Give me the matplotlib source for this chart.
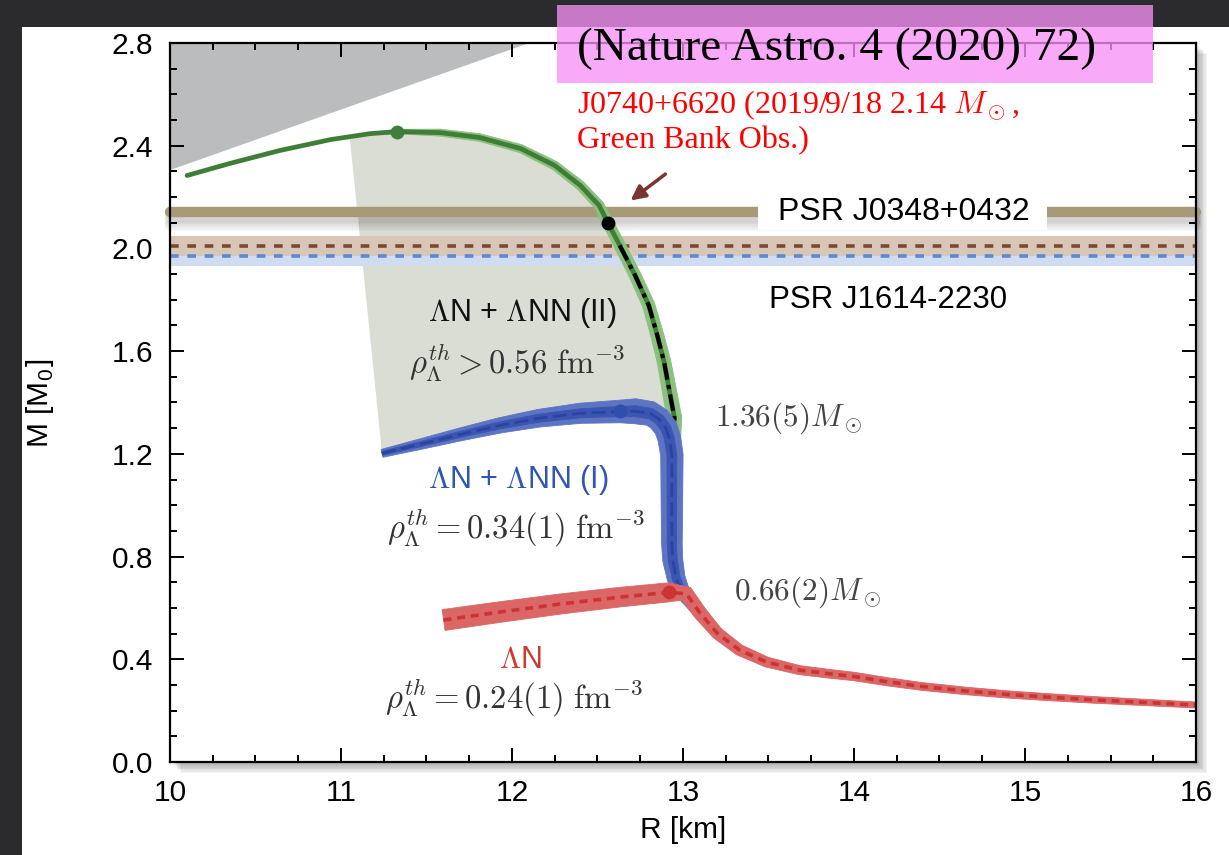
import numpy as np
import matplotlib.pyplot as plt
import matplotlib.patheffects as pe
from matplotlib.patches import Rectangle, Polygon
from matplotlib.ticker import MultipleLocator, FormatStrFormatter

plt.rcParams['font.family'] = ['Liberation Sans', 'DejaVu Sans']
plt.rcParams['mathtext.fontset'] = 'cm'

# mass-radius branches, R in km and M in solar masses
green_R = [10.10, 10.35, 10.64, 10.94, 11.17, 11.33, 11.58, 11.81, 12.05, 12.25,
           12.40, 12.51, 12.56, 12.63, 12.72, 12.80, 12.85, 12.89, 12.92, 12.95]
green_M = [2.284, 2.331, 2.381, 2.424, 2.447, 2.455, 2.451, 2.432, 2.389, 2.323,
           2.245, 2.167, 2.101, 2.012, 1.895, 1.778, 1.661, 1.556, 1.447, 1.340]

blue_R = [11.24, 11.46, 11.70, 11.93, 12.16, 12.40, 12.63, 12.72, 12.81, 12.86, 12.90, 12.92]
blue_M = [1.202, 1.237, 1.276, 1.311, 1.339, 1.358, 1.365, 1.366, 1.357, 1.335, 1.300, 1.260]

red_R = [11.60, 11.93, 12.28, 12.63, 12.92, 13.02]
red_M = [0.553, 0.584, 0.615, 0.642, 0.661, 0.655]

# nucleonic part shared by the stiffer branches
vert_R = [12.935, 12.935, 12.935, 12.935, 12.94, 12.96, 12.99, 13.04]
vert_M = [1.195, 1.080, 0.942, 0.850, 0.786, 0.716, 0.669, 0.630]

tail_R = [13.10, 13.20, 13.33, 13.49, 13.68, 13.85, 14.00, 14.20, 14.40, 14.65,
          14.90, 15.15, 15.40, 15.70, 16.00]
tail_M = [0.580, 0.502, 0.436, 0.389, 0.358, 0.344, 0.333, 0.312, 0.294, 0.277,
          0.263, 0.252, 0.242, 0.232, 0.222]

# maximum-mass / onset points
dot_R = [11.33, 12.56, 12.63, 12.92]
dot_M = [2.455, 2.10, 1.365, 0.661]
dot_colors = ['#417d3c', 'black', '#2e4fae', '#cc3434']

# causality-excluded corner
excl_R = [10.0, 10.0, 12.1]
excl_M = [2.8, 2.305, 2.8]

# pulsar masses
j0348_mass, j0348_err = 2.01, 0.04
j1614_mass, j1614_err = 1.97, 0.04
j0740_mass = 2.14


def band(ax, R, M, widths, color, z):
    """Uncertainty band of varying pixel width drawn around a curve."""
    pts = ax.transData.transform(np.column_stack([R, M]))
    d = np.gradient(pts, axis=0)
    n = np.column_stack([-d[:, 1], d[:, 0]])
    n /= np.linalg.norm(n, axis=1)[:, None]
    half = np.asarray(widths, dtype=float)[:, None] / 2
    outline = np.vstack([pts + n * half, (pts - n * half)[::-1]])
    ax.add_patch(Polygon(ax.transData.inverted().transform(outline), closed=True,
                         fc=color, ec=color, lw=0.6, zorder=z))


def ramp(n, keys, values):
    return np.interp(np.arange(n), keys, values)


fig = plt.figure(figsize=(12.29, 8.55), dpi=100, facecolor='#2b2b2d')
fig.add_artist(Rectangle((22 / 1229, 0), 1, 1 - 27 / 855, transform=fig.transFigure,
                         fc='white', ec='none', zorder=-10))
ax = fig.add_axes([0.13832, 0.10877, 0.83483, 0.84094])
ax.patch.set_path_effects([pe.SimplePatchShadow(offset=(k, -k), shadow_rgbFace='black', alpha=0.045)
                           for k in range(1, 9)] + [pe.Normal()])

ax.set_xlim(10, 16)
ax.set_ylim(0, 2.8)

# shaded region between the two three-body branches
gR = np.array(green_R)
gM = np.array(green_M)
keep = gR >= 11.05
poly = ([(11.05, 2.44)] + list(zip(gR[keep], gM[keep])) + [(12.935, 1.195)]
        + list(zip(blue_R[::-1], blue_M[::-1])))
ax.add_patch(Polygon(poly, closed=True, fc='#d9ddd3', ec='none', zorder=1))
ax.add_patch(Polygon(list(zip(excl_R, excl_M)), closed=True, fc='#bbbcbe', ec='none', zorder=1))

# pulsar mass bands
ax.axhspan(j1614_mass - j1614_err, j1614_mass + j1614_err, color='#cfdcf2', lw=0, zorder=2)
ax.axhspan(j0348_mass - j0348_err, j0348_mass + j0348_err, color='#d8c6b8', lw=0, zorder=2)
ax.axhline(j0348_mass, color='#7b4a2b', lw=2.6, ls=(0, (2.4, 2.4)), zorder=3)
ax.axhline(j1614_mass, color='#5b8ad0', lw=2.6, ls=(0, (2.4, 2.4)), zorder=3)

shadow = [pe.SimpleLineShadow(offset=(0, -k), shadow_color='black', alpha=0.025) for k in range(1, 11)]
ax.plot([10, 16], [j0740_mass, j0740_mass], color='#a99a77', lw=7.5, solid_capstyle='round',
        clip_on=False, zorder=4, path_effects=shadow + [pe.Normal()])
ax.add_patch(Rectangle((13.44, 2.07), 1.69, 0.144, fc='white', ec='none', zorder=5))
ax.text(14.29, 2.142, 'PSR J0348+0432', ha='center', va='center', fontsize=23, zorder=6)
ax.text(14.2, 1.80, 'PSR J1614-2230', ha='center', va='center', fontsize=22.5, zorder=6)

# green branch: Lambda N + Lambda NN (II)
gsel = gR >= 11.1
g_band_R = list(gR[gsel]) + vert_R[:2]
g_band_M = list(gM[gsel]) + vert_M[:2]
band(ax, g_band_R, g_band_M, ramp(len(g_band_R), [0, 2, len(g_band_R) - 1], [2, 7, 16]), '#8cc07e', 6)
ax.plot(green_R + vert_R + tail_R, green_M + vert_M + tail_M, color='#3e7e36', lw=3.4,
        solid_capstyle='round', zorder=6.2)
blk = gM <= 2.10
ax.plot(list(gR[blk]) + vert_R + tail_R, list(gM[blk]) + vert_M + tail_M,
        color='black', lw=3, ls=(0, (4, 1.3, 1, 1.3)), zorder=6.5)

# blue branch: Lambda N + Lambda NN (I)
full_bR = blue_R + vert_R + tail_R
full_bM = blue_M + vert_M + tail_M
nb = len(blue_R) + len(vert_R) + 3
band(ax, full_bR[:nb], full_bM[:nb], ramp(nb, [0, 7, 11, 16, 19, 22], [8, 25, 23, 20, 14, 7]), '#5d74c3', 7)
band(ax, full_bR[:nb], full_bM[:nb], ramp(nb, [0, 7, 11, 16, 22], [4, 11, 10, 9, 4]), '#3a56b2', 7.1)
ax.plot(full_bR, full_bM, color='#2a449f', lw=2, ls=(0, (5, 2)), zorder=7.2)

# red branch: Lambda N only
full_rR = red_R + tail_R
full_rM = red_M + tail_M
band(ax, full_rR, full_rM, ramp(len(full_rR), [0, 4, 5, 7, 10, 20], [21, 19, 15, 12, 9, 6]), '#da6666', 8)
ax.plot(full_rR, full_rM, color='#cc3434', lw=2.6, ls=(0, (2.2, 1.6)), zorder=8.2)

for r, m, c in zip(dot_R, dot_M, dot_colors):
    ax.plot(r, m, 'o', ms=10, color=c, mec='none', zorder=9)

# branch labels
dark = '#333333'
ax.text(12.06, 1.747, r'$\Lambda$N + $\Lambda$NN (II)', ha='center', va='center', fontsize=22, color='#111111', zorder=10)
ax.text(12.03, 1.556, r'$\rho_\Lambda^{th} > 0.56\ \mathrm{fm}^{-3}$', ha='center', va='center', fontsize=23.5, color=dark, zorder=10)
ax.text(13.19, 1.339, r'$1.36(5)M_\odot$', ha='left', va='center', fontsize=22.5, color='#444444', zorder=10)
ax.text(12.035, 1.097, r'$\Lambda$N + $\Lambda$NN (I)', ha='center', va='center', fontsize=22, color='#2f55b5', zorder=10)
ax.text(12.02, 0.911, r'$\rho_\Lambda^{th} = 0.34(1)\ \mathrm{fm}^{-3}$', ha='center', va='center', fontsize=23.5, color=dark, zorder=10)
ax.text(13.30, 0.661, r'$0.66(2)M_\odot$', ha='left', va='center', fontsize=22.5, color='#444444', zorder=10)
ax.text(12.05, 0.397, r'$\Lambda$N', ha='center', va='center', fontsize=22, color='#d03a2e', zorder=10)
ax.text(12.01, 0.249, r'$\rho_\Lambda^{th} = 0.24(1)\ \mathrm{fm}^{-3}$', ha='center', va='center', fontsize=23.5, color=dark, zorder=10)

ax.annotate('', xy=(12.68, 2.18), xytext=(12.91, 2.296),
            arrowprops=dict(arrowstyle='-|>', color='#7b3530', lw=2.5, mutation_scale=22),
            zorder=10, annotation_clip=False)

# axes styling
ax.xaxis.set_major_locator(MultipleLocator(1))
ax.xaxis.set_minor_locator(MultipleLocator(0.25))
ax.yaxis.set_major_locator(MultipleLocator(0.4))
ax.yaxis.set_minor_locator(MultipleLocator(0.1))
ax.yaxis.set_major_formatter(FormatStrFormatter('%.1f'))
ax.tick_params(which='both', direction='in', top=True, right=True, width=1.4, labelsize=21.5)
ax.tick_params(which='major', length=10, pad=12)
ax.tick_params(which='minor', length=5)
for s in ax.spines.values():
    s.set_linewidth(1.6)
    s.set_zorder(11)

fig.text(683 / 1229, 1 - 830 / 855, 'R [km]', ha='center', va='center', fontsize=21.5)
fig.text(40 / 1229, 1 - 403 / 855, r'M [M$_\mathregular{0}$]', ha='center', va='center',
         rotation=90, fontsize=21.5)

# citation banner and J0740 note
fig.add_artist(Rectangle((557 / 1229, 1 - 83 / 855), 596 / 1229, 78 / 855, transform=fig.transFigure,
                         fc='#f791f7', alpha=0.77, ec='none', zorder=20))
fig.text(577 / 1229, 1 - 49 / 855, '(Nature Astro. 4 (2020) 72)', ha='left', va='center',
         fontsize=34, family='Liberation Serif', zorder=21)
fig.text(577 / 1229, 1 - 88 / 855, 'J0740+6620 (2019/9/18 2.14 $M_\\odot$,\nGreen Bank Obs.)',
         ha='left', va='top', fontsize=23, family='Liberation Serif', color='red',
         linespacing=1.2, zorder=21)

fig.savefig('out.png', dpi=100, facecolor=fig.get_facecolor())
